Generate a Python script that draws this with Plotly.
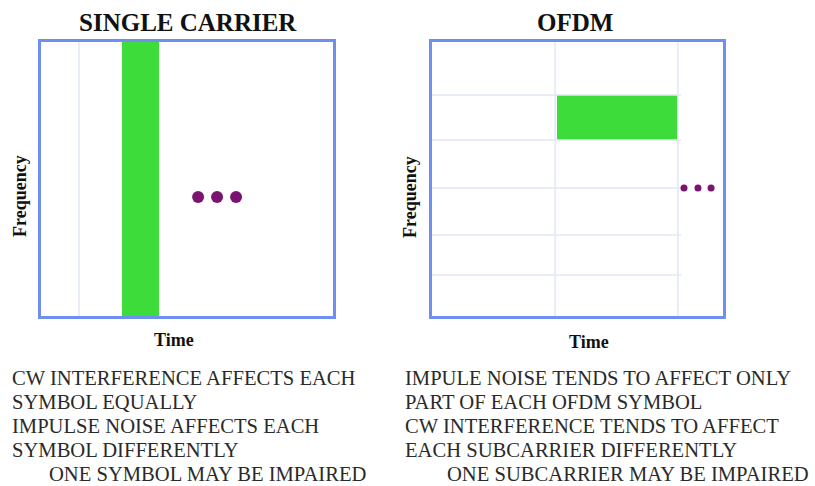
import plotly.graph_objects as go

# ---------------- data ----------------
panel_titles = ["SINGLE CARRIER", "OFDM"]
axis_x_label = "Time"
axis_y_label = "Frequency"

# single carrier panel (time/frequency units 0..10)
sc_time_grid = [1.3]
sc_block_time = [2.77, 4.04]          # impaired symbol (start, end)
sc_block_freq = [0, 10]
sc_dots_time = [5.38, 6.03, 6.68]
sc_dots_freq = [4.34, 4.34, 4.34]

# OFDM panel
ofdm_time_grid = [4.23, 8.45]
ofdm_freq_grid = [1.5, 2.96, 4.67, 6.42, 8.07]
ofdm_grid_end = 8.56
ofdm_block_time = [4.3, 8.42]
ofdm_block_freq = [6.42, 8.07]
ofdm_dots_time = [8.66, 9.14, 9.59]
ofdm_dots_freq = [4.67, 4.67, 4.67]

left_text = ["CW INTERFERENCE AFFECTS EACH", "SYMBOL EQUALLY",
             "IMPULSE NOISE AFFECTS EACH", "SYMBOL DIFFERENTLY",
             "ONE SYMBOL MAY BE IMPAIRED"]
right_text = ["IMPULE NOISE TENDS TO AFFECT ONLY", "PART OF EACH OFDM SYMBOL",
              "CW INTERFERENCE TENDS TO AFFECT", "EACH SUBCARRIER DIFFERENTLY",
              "ONE SUBCARRIER MAY BE IMPAIRED"]

# ---------------- style ----------------
W, H = 815, 486
BORDER = "#6f8ff0"
GRID = "#e2e7f6"
GREEN = "#3ddc3a"
DOT = "#7b1470"
FONT = "Liberation Serif"

def fx(p):
    return p / W

def fy(p):
    return 1 - p / H

fig = go.Figure()

# --- single carrier ---
for t in sc_time_grid:
    fig.add_trace(go.Scatter(x=[t, t], y=[0, 10], mode="lines",
                             line=dict(color=GRID, width=1.5),
                             xaxis="x", yaxis="y", hoverinfo="skip"))
fig.add_trace(go.Bar(x=[(sc_block_time[0] + sc_block_time[1]) / 2],
                     width=[sc_block_time[1] - sc_block_time[0]],
                     y=[sc_block_freq[1] - sc_block_freq[0]], base=[sc_block_freq[0]],
                     marker=dict(color=GREEN, line=dict(width=0)),
                     xaxis="x", yaxis="y"))
fig.add_trace(go.Scatter(x=sc_dots_time, y=sc_dots_freq, mode="markers",
                         marker=dict(color=DOT, size=12),
                         xaxis="x", yaxis="y"))

# --- OFDM ---
for f in ofdm_freq_grid:
    fig.add_trace(go.Scatter(x=[0, ofdm_grid_end], y=[f, f], mode="lines",
                             line=dict(color=GRID, width=1.5),
                             xaxis="x2", yaxis="y2", hoverinfo="skip"))
for t in ofdm_time_grid:
    fig.add_trace(go.Scatter(x=[t, t], y=[0, 10], mode="lines",
                             line=dict(color=GRID, width=1.5),
                             xaxis="x2", yaxis="y2", hoverinfo="skip"))
fig.add_trace(go.Bar(x=[(ofdm_block_time[0] + ofdm_block_time[1]) / 2],
                     width=[ofdm_block_time[1] - ofdm_block_time[0]],
                     y=[ofdm_block_freq[1] - ofdm_block_freq[0]], base=[ofdm_block_freq[0]],
                     marker=dict(color=GREEN, line=dict(width=0)),
                     xaxis="x2", yaxis="y2"))
fig.add_trace(go.Scatter(x=ofdm_dots_time, y=ofdm_dots_freq, mode="markers",
                         marker=dict(color=DOT, size=7),
                         xaxis="x2", yaxis="y2"))

ax_common = dict(range=[0, 10], showgrid=False, zeroline=False, showticklabels=False,
                 ticks="", showline=True, mirror=True, linecolor=BORDER, linewidth=3,
                 fixedrange=True)

fig.update_layout(
    width=W, height=H, margin=dict(l=0, r=0, t=0, b=0),
    paper_bgcolor="white", plot_bgcolor="white", showlegend=False,
    bargap=0,
    xaxis=dict(domain=[fx(41), fx(333)], anchor="y", **ax_common),
    yaxis=dict(domain=[fy(316), fy(42)], anchor="x", **ax_common),
    xaxis2=dict(domain=[fx(432), fx(723)], anchor="y2", **ax_common),
    yaxis2=dict(domain=[fy(316), fy(42)], anchor="x2", **ax_common),
)

ann = []
# titles
ann.append(dict(text="<b>%s</b>" % panel_titles[0], x=fx(188), y=fy(22)))
ann.append(dict(text="<b>%s</b>" % panel_titles[1], x=fx(575), y=fy(22)))
for a in ann:
    a.update(xref="paper", yref="paper", showarrow=False,
             font=dict(family=FONT, size=25, color="#111"),
             xanchor="center", yanchor="middle")
# axis labels
for (x, y) in [(174, 340), (589, 342)]:
    ann.append(dict(text="<b>%s</b>" % axis_x_label, x=fx(x), y=fy(y), xref="paper", yref="paper",
                    showarrow=False, font=dict(family=FONT, size=18, color="#111"),
                    xanchor="center", yanchor="middle"))
for (x, y) in [(20, 196), (410, 197)]:
    ann.append(dict(text="<b>%s</b>" % axis_y_label, x=fx(x), y=fy(y), xref="paper", yref="paper",
                    showarrow=False, textangle=-90,
                    font=dict(family=FONT, size=18, color="#111"),
                    xanchor="center", yanchor="middle"))
# description text
line_y = [378, 402, 426, 450, 474]
for i, s in enumerate(left_text):
    ann.append(dict(text=s, x=fx(47 if i == 4 else 10), y=fy(line_y[i]), xref="paper", yref="paper",
                    showarrow=False, font=dict(family=FONT, size=20.6, color="#2a2a2a"),
                    xanchor="left", yanchor="middle"))
for i, s in enumerate(right_text):
    ann.append(dict(text=s, x=fx(445 if i == 4 else 403), y=fy(line_y[i]), xref="paper", yref="paper",
                    showarrow=False, font=dict(family=FONT, size=20.6, color="#2a2a2a"),
                    xanchor="left", yanchor="middle"))
fig.update_layout(annotations=ann)

fig.write_html("out.html", config={"displayModeBar": False},
               post_script="document.body.style.margin='0';document.body.style.overflow='hidden';")
